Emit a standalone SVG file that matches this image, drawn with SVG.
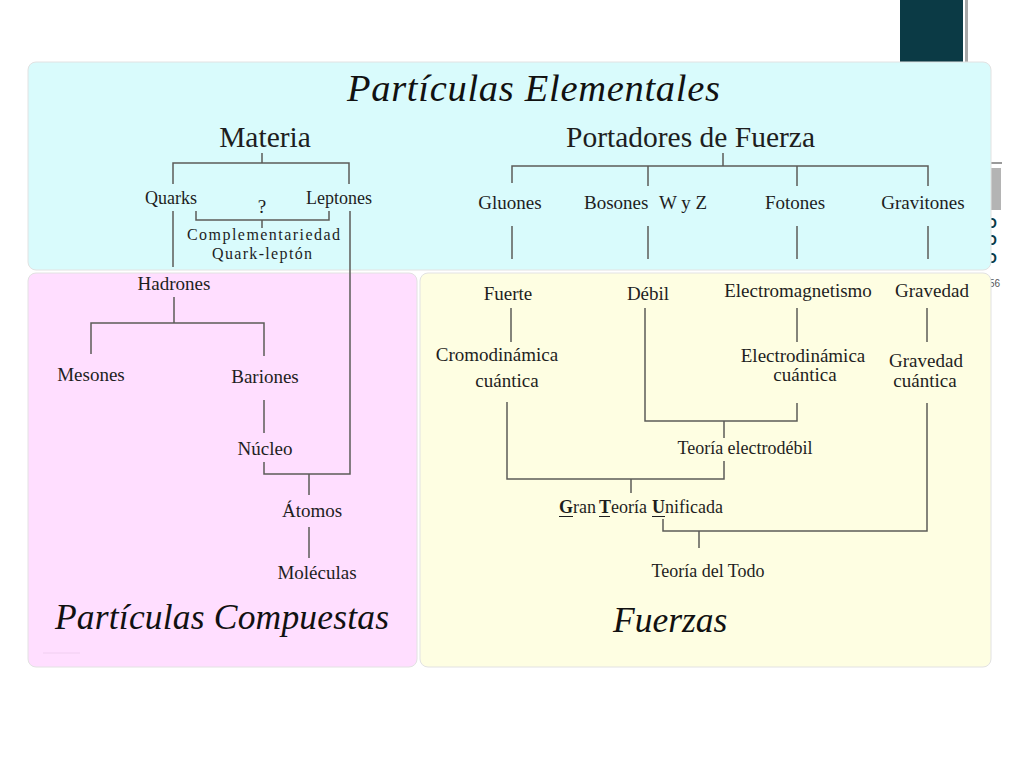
<svg xmlns="http://www.w3.org/2000/svg" width="1024" height="768" viewBox="0 0 1024 768">
<style>
.t{font-family:"Liberation Serif","DejaVu Serif",serif;font-size:19px;fill:#1e1e1e}
.m{text-anchor:middle}
.big{font-size:29.5px}
.it{font-style:italic;font-size:35.5px;fill:#111}
.c{fill:none;stroke:#5c5c58;stroke-width:1.5}
.panel{stroke:#e2e2e2;stroke-width:1}
.o{font-family:"Liberation Sans",sans-serif;font-size:14px;font-weight:bold;fill:#0b3a45}
</style>
<rect width="1024" height="768" fill="#ffffff"/>
<g id="slide-decor">
<rect x="900" y="0" width="63" height="62" fill="#0b3a45"/>
<rect x="965" y="0" width="3" height="62" fill="#a8a8a8"/>
<rect x="991" y="162" width="11" height="2" fill="#9a9a9a"/>
<rect x="991" y="168" width="10" height="42" fill="#b4b4b4"/>
<text class="o" x="986" y="228">O</text>
<text class="o" x="986" y="245">O</text>
<text class="o" x="986" y="263">O</text>
<text x="989" y="287" font-family="Liberation Sans, sans-serif" font-size="10" fill="#555">56</text>
</g>
<g id="panels">
<rect class="panel" x="28" y="62" width="963" height="208" rx="8" fill="#d9fbfc"/>
<rect class="panel" x="28" y="273" width="389" height="394" rx="8" fill="#ffdeff"/>
<rect class="panel" x="420" y="273" width="571" height="394" rx="8" fill="#fefee2"/>
<line x1="43" y1="653" x2="80" y2="653" stroke="#f0cff0" stroke-width="1"/>
</g>
<g id="connectors">
<path class="c" d="M262,153V163M173,184V163H349V184M196,211V220H329V211M262,220V228M173,211V267M350,211V474H264V462M174,297V323M91,354V323H264V356M264,400V433M309,474V495M309,527V558"/>
<path class="c" d="M723,153V166M512,183V166H928V186M648,166V186M797,166V186M512,226V259M648,226V259M797,226V259M928,226V259"/>
<path class="c" d="M511,308V342M645,308V421H797V403M724,421V438M797,308V342M927,308V342M507,402V479H724V461M631,479V493M927,403V531H663V519M699,531V548"/>
</g>
<g id="title-elementales"><text class="t it" x="347" y="101" style="font-size:38.5px" textLength="373">Partículas Elementales</text></g>
<g id="materia"><text class="t big m" x="265" y="147">Materia</text></g>
<g id="quarks"><text class="t m" x="171" y="204" style="font-size:18px">Quarks</text></g>
<g id="leptones"><text class="t m" x="339" y="204" style="font-size:18px">Leptones</text></g>
<g id="question"><text class="t m" x="262" y="213">?</text></g>
<g id="complementariedad"><text class="t" x="187" y="240" style="font-size:16px" textLength="153">Complementariedad</text><text class="t" x="212" y="259" style="font-size:16px" textLength="100">Quark-leptón</text></g>
<g id="hadrones"><text class="t m" x="174" y="290">Hadrones</text></g>
<g id="mesones"><text class="t m" x="91" y="381">Mesones</text></g>
<g id="bariones"><text class="t m" x="265" y="383">Bariones</text></g>
<g id="nucleo"><text class="t m" x="265" y="455">Núcleo</text></g>
<g id="atomos"><text class="t m" x="312" y="517">Átomos</text></g>
<g id="moleculas"><text class="t m" x="317" y="579">Moléculas</text></g>
<g id="title-compuestas"><text class="t it" x="55" y="629" textLength="334">Partículas Compuestas</text></g>
<g id="portadores"><text class="t big" x="566" y="147">Portadores de Fuerza</text></g>
<g id="gluones"><text class="t m" x="510" y="209">Gluones</text></g>
<g id="bosones"><text class="t" x="584" y="209">Bosones<tspan x="659">W y Z</tspan></text></g>
<g id="fotones"><text class="t m" x="795" y="209">Fotones</text></g>
<g id="gravitones"><text class="t m" x="923" y="209">Gravitones</text></g>
<g id="fuerte"><text class="t m" x="508" y="300">Fuerte</text></g>
<g id="debil"><text class="t m" x="648" y="300">Débil</text></g>
<g id="electromagnetismo"><text class="t m" x="798" y="297">Electromagnetismo</text></g>
<g id="gravedad"><text class="t m" x="932" y="297">Gravedad</text></g>
<g id="cromodinamica"><text class="t m" x="497" y="361">Cromodinámica</text><text class="t m" x="507" y="387">cuántica</text></g>
<g id="electrodinamica"><text class="t m" x="803" y="362">Electrodinámica</text><text class="t m" x="805" y="381">cuántica</text></g>
<g id="gravedad-cuantica"><text class="t m" x="926" y="367">Gravedad</text><text class="t m" x="925" y="387">cuántica</text></g>
<g id="electrodebil"><text class="t m" x="745" y="454" style="font-size:18px">Teoría electrodébil</text></g>
<g id="gtu">
<text class="t" y="513" style="font-size:18px"><tspan x="559" font-weight="bold">G</tspan>ran<tspan x="599" font-weight="bold">T</tspan>eoría<tspan x="652" font-weight="bold">U</tspan>nificada</text>
<path d="M559,516.5H573M599,516.5H610M652,516.5H665" stroke="#1e1e1e" stroke-width="1.2"/>
</g>
<g id="todo"><text class="t m" x="708" y="577" style="font-size:18px">Teoría del Todo</text></g>
<g id="title-fuerzas"><text class="t it" x="613" y="632">Fuerzas</text></g>
</svg>
